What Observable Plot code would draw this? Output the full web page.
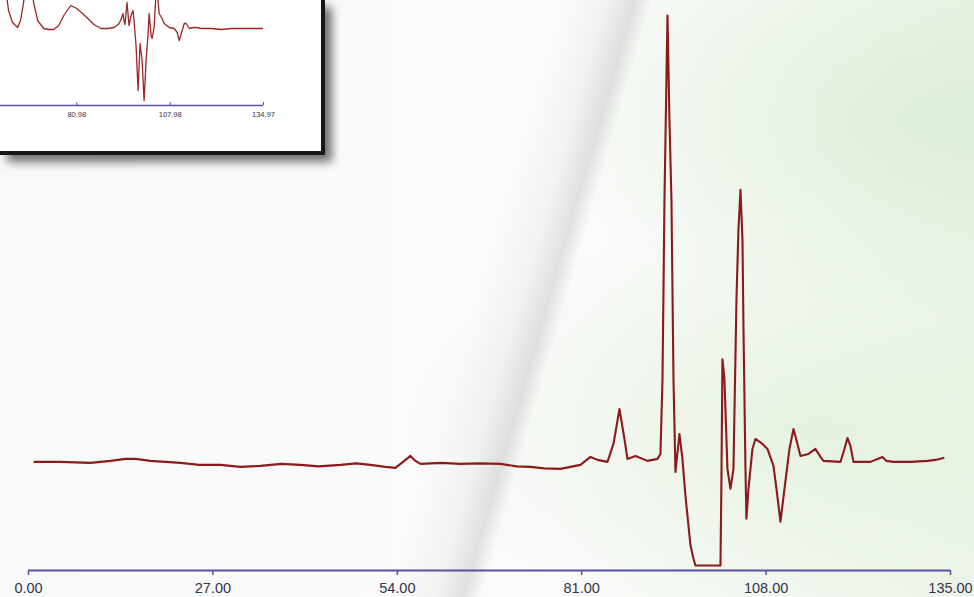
<!DOCTYPE html>
<html>
<head>
<meta charset="utf-8">
<script src="https://cdn.jsdelivr.net/npm/d3@7"></script>
<script src="https://cdn.jsdelivr.net/npm/@observablehq/plot@0.6"></script>
<style>
  html, body { margin: 0; padding: 0; }
  #stage {
    position: relative; width: 974px; height: 597px; overflow: hidden;
    background:
      linear-gradient(106deg, rgba(255,255,255,0) 49%, rgba(190,190,190,0.14) 53%, rgba(150,150,150,0.26) 55.4%, rgba(255,255,255,0) 57%),
      radial-gradient(ellipse at 97% 20%, rgba(205,230,196,0.5), rgba(205,230,196,0) 30%),
      radial-gradient(ellipse at 82% 72%, rgba(210,233,200,0.4), rgba(210,233,200,0) 35%),
      linear-gradient(90deg, #f8f9f9 0%, #fbfbfb 58%, #f5f9f4 78%, #edf5ea 100%);
  }
  #main { position: absolute; left: 0; top: 0; }
  #main svg text { font-size: 14.5px !important; font-family: "Liberation Sans", Arial, sans-serif !important; }
  #inset svg text { font-size: 7.5px !important; font-family: "Liberation Sans", Arial, sans-serif !important; }
  #inset {
    position: absolute; left: 0; top: 0; width: 321px; height: 151px;
    background: #ffffff;
    border-right: 4px solid #161616; border-bottom: 4px solid #161616;
    box-shadow: 7px 7px 9px rgba(0,0,0,0.55);
  }
</style>
</head>
<body>
<div id="stage">
  <div id="main"></div>
  <div id="inset"></div>
</div>
<script>
// ---- main trace (time in minutes, detector signal) ----
const mainTime = [0.88, 4.69, 9.08, 12.01, 14.20, 15.67, 17.86, 22.25, 25.0, 28.11, 31.0, 33.97, 37.0, 39.82, 42.5, 45.68, 48.0, 50.07, 52.27, 53.73, 55.20, 55.93, 56.66, 57.39, 60.5, 63.25, 66.0, 69.11, 71.5, 73.50, 75.5, 77.89, 80.82, 82.28, 83.31, 84.77, 85.65, 86.53, 87.26, 87.70, 88.87, 90.63, 92.09, 92.53, 92.83, 93.12, 93.56, 93.85, 94.14, 94.44, 94.73, 95.31, 95.75, 96.19, 96.93, 97.36, 97.66, 101.32, 101.46, 101.61, 101.90, 102.34, 102.78, 103.22, 103.66, 103.95, 104.25, 104.54, 104.69, 104.98, 105.12, 105.42, 106.00, 106.44, 107.47, 108.20, 109.08, 109.52, 110.10, 110.69, 111.42, 112.01, 112.59, 113.03, 114.20, 115.23, 115.96, 116.40, 118.89, 119.47, 119.91, 120.35, 120.79, 123.28, 125.04, 125.62, 126.65, 129.14, 131.63, 132.80, 133.97];
const mainSignal = [0.8, 0.8, 0.6, 1.0, 1.4, 1.4, 1.0, 0.6, 0.2, 0.2, -0.2, 0.0, 0.4, 0.2, -0.1, 0.2, 0.5, 0.2, -0.2, -0.4, 1.2, 2.0, 1.0, 0.4, 0.6, 0.4, 0.5, 0.4, -0.1, -0.2, -0.5, -0.6, 0.2, 1.8, 1.2, 0.8, 4.4, 11.4, 5.4, 1.4, 2.0, 1.0, 1.4, 2.4, 17.4, 53.4, 90.4, 69.4, 53.4, 17.4, -1.2, 6.4, 1.4, -6.0, -16.0, -18.6, -20.0, -20.0, -2.6, 21.4, 17.4, -0.6, -4.6, -0.6, 33.4, 47.4, 55.4, 45.4, 27.4, -0.6, -10.6, -4.6, 3.4, 5.4, 4.4, 3.4, 0.0, -4.6, -11.2, -4.6, 3.4, 7.4, 4.4, 2.0, 2.4, 3.4, 1.8, 1.0, 0.8, 3.4, 5.6, 4.0, 0.8, 0.8, 1.8, 1.0, 0.8, 0.8, 1.0, 1.2, 1.6];
const mainTicks = [0, 27, 54, 81, 108, 135];

// ---- inset trace ----
const insetTime = [59.78, 61.23, 62.39, 63.85, 64.72, 65.59, 66.46, 67.33, 68.49, 69.65, 71.40, 72.85, 74.30, 75.75, 77.21, 79.24, 80.98, 83.59, 85.92, 87.95, 89.98, 91.73, 92.60, 93.18, 93.76, 94.34, 94.63, 94.92, 95.50, 96.08, 96.66, 97.24, 97.53, 98.11, 98.70, 99.28, 99.86, 100.44, 101.02, 101.60, 101.89, 102.47, 102.76, 103.34, 103.92, 104.21, 104.79, 105.66, 106.24, 107.69, 109.14, 110.02, 110.60, 111.47, 112.05, 112.63, 113.50, 114.67, 115.54, 116.99, 119.89, 122.80, 125.70, 128.61, 131.51, 134.99];
const insetSignal = [135, 95, 83, 78, 85, 103, 135, 135, 103, 85, 77, 76, 76, 80, 90, 100, 97, 89, 81, 77, 77, 78, 80, 82, 86, 92, 85, 81, 103, 80, 90, 95, 85, 60, 15, 62, 45, 5, 45, 72, 92, 70, 67, 78, 115, 115, 92, 87, 82, 78, 77, 73, 65, 75, 82, 82, 77, 78, 78, 77, 77, 76, 77, 77, 77, 77];
const insetTicks = [80.98, 107.98, 134.97];

const axisColor = "#5a51a6";
const textColor = "#34344a";
const lineColor = "#8b1a1a";

const mainData = mainTime.map((t, i) => ({t, v: mainSignal[i]}));
const insetData = insetTime.map((t, i) => ({t, v: insetSignal[i]}));

const main = Plot.plot({
  width: 974, height: 597,
  marginLeft: 28, marginRight: 24, marginTop: 17, marginBottom: 27,
  style: {background: "transparent", overflow: "visible"},
  x: {domain: [0, 135], label: null},
  y: {domain: [-21, 90], axis: null},
  marks: [
    Plot.ruleY([-21], {stroke: axisColor, strokeWidth: 2}),
    Plot.axisX({ticks: mainTicks, tickFormat: d3.format(".2f"), tickSize: 5, tickPadding: 7, label: null, stroke: axisColor, fill: textColor, strokeWidth: 1.5}),
    Plot.line(mainData, {x: "t", y: "v", stroke: lineColor, strokeWidth: 2.1})
  ]
});
document.getElementById("main").appendChild(main);

const inset = Plot.plot({
  width: 321, height: 151,
  marginLeft: 0, marginRight: 58, marginTop: 0, marginBottom: 46,
  style: {background: "transparent", overflow: "visible"},
  x: {domain: [58.91, 134.97], label: null},
  y: {domain: [0, 105], axis: null},
  marks: [
    Plot.line(insetData, {x: "t", y: "v", stroke: "#9b2626", strokeWidth: 1.3, clip: true}),
    Plot.ruleY([0], {stroke: axisColor, strokeWidth: 1.4}),
    Plot.axisX({ticks: insetTicks, tickFormat: d3.format(".2f"), tickSize: -3, tickPadding: 9, label: null, stroke: axisColor, fill: textColor})
  ]
});
document.getElementById("inset").appendChild(inset);
</script>
</body>
</html>
